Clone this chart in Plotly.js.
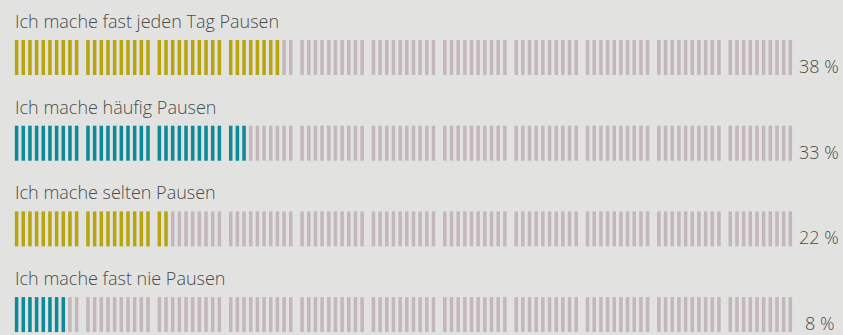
<!DOCTYPE html>
<html>
<head>
<meta charset="utf-8">
<script src="https://cdn.plot.ly/plotly-3.0.1.min.js"></script>
<style>
  html, body { margin: 0; padding: 0; background: #e2e3e1; }
  #chart { width: 843px; height: 335px; }
</style>
</head>
<body>
<div id="chart"></div>
<script>
// ---- data ----
const categories = [
  "Ich mache fast jeden Tag Pausen",
  "Ich mache häufig Pausen",
  "Ich mache selten Pausen",
  "Ich mache fast nie Pausen"
];
const values = [38, 33, 22, 8];            // percent = number of coloured stripes
const percentLabels = ["38 %", "33 %", "22 %", "8 %"];
const totalStripes = 110;
const stripesPerGroup = 10;
const rowColors = ["#b8a50d", "#0c8a99", "#b8a50d", "#0c8a99"];
const restColor = "#c4b6bd";

// ---- layout constants ----
const W = 843, H = 335;
const pxPerUnit = 6.67;       // stripe pitch
const groupGap = 0.7;         // extra gap between groups (units)
const firstCenterPx = 16.6;
const rowTop0 = 40, rowStep = 85.7, barH = 35;
const textFont = { family: "Open Sans", size: 18, color: "#4b4b4b", weight: 300 };

const stripeX = [];
for (let i = 0; i < totalStripes; i++) {
  stripeX.push(i + Math.floor(i / stripesPerGroup) * groupGap);
}

const traces = [];
const annotations = [];
categories.forEach((cat, r) => {
  const top = rowTop0 + r * rowStep;
  const colors = stripeX.map((_, i) => i < values[r] ? rowColors[r] : restColor);
  traces.push({
    type: "bar",
    x: stripeX,
    y: stripeX.map(() => barH),
    base: stripeX.map(() => top),
    width: 0.53,
    marker: { color: colors, line: { width: 0 } },
    hoverinfo: "skip",
    showlegend: false
  });
  annotations.push({
    xref: "paper", yref: "paper",
    x: 13 / W, y: 1 - (top - 5) / H,
    xanchor: "left", yanchor: "bottom",
    text: cat, showarrow: false,
    font: textFont
  });
  annotations.push({
    xref: "paper", yref: "paper",
    x: 819 / W, y: 1 - (top + barH + 5) / H,
    xanchor: "center", yanchor: "bottom",
    text: percentLabels[r], showarrow: false,
    font: textFont
  });
});

const layout = {
  width: W, height: H,
  margin: { l: 0, r: 0, t: 0, b: 0, pad: 0 },
  paper_bgcolor: "#e2e3e1",
  plot_bgcolor: "#e2e3e1",
  barmode: "overlay",
  xaxis: {
    range: [-firstCenterPx / pxPerUnit, (W - firstCenterPx) / pxPerUnit],
    visible: false, fixedrange: true
  },
  yaxis: {
    range: [H, 0],
    visible: false, fixedrange: true
  },
  annotations: annotations
};

Plotly.newPlot("chart", traces, layout, { staticPlot: true, displayModeBar: false });
</script>
</body>
</html>
